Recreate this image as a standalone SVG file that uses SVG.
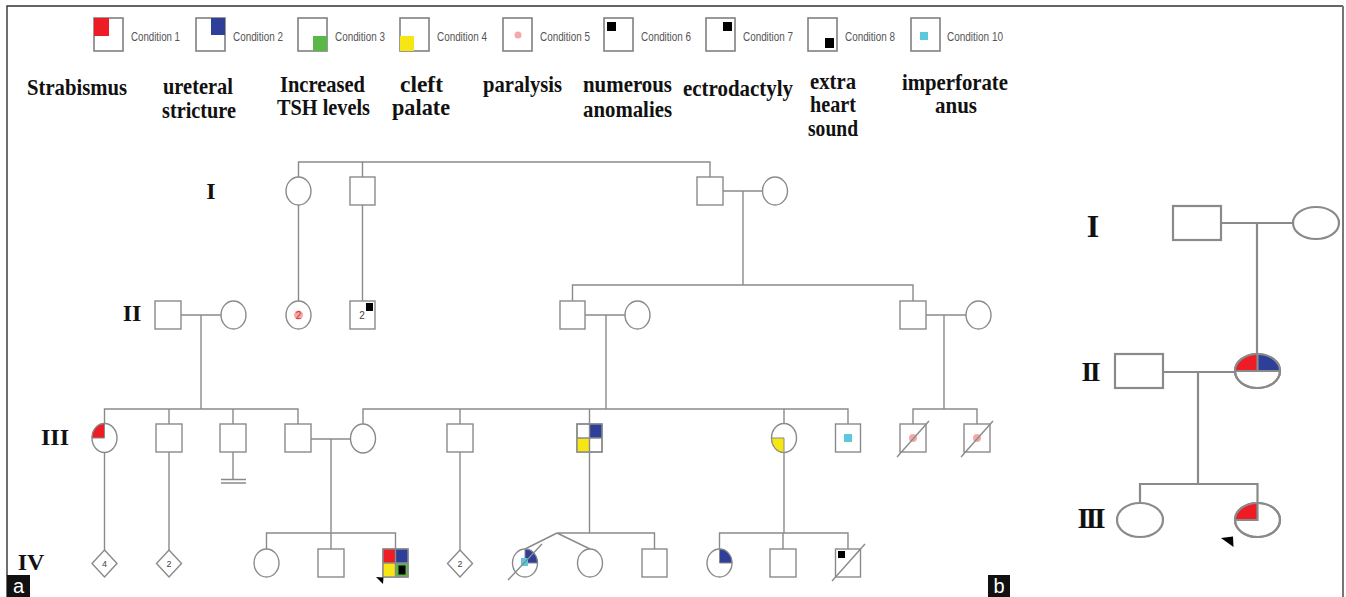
<svg xmlns="http://www.w3.org/2000/svg" width="1346" height="597" viewBox="0 0 1346 597">
<style>
.ln{stroke:#8a8a8a;stroke-width:1.4;fill:none}
.sym{stroke:#8a8a8a;stroke-width:1.4;fill:#fff}
.lg{stroke:#808080;stroke-width:1.6;fill:#fff}
.bl{stroke:#8a8a8a;stroke-width:2.2;fill:none}
.bs{stroke:#8a8a8a;stroke-width:2.2;fill:#fff}
.ct{font-family:"Liberation Sans",Arial,sans-serif;font-size:13px;fill:#555}
.lb{font-family:"Liberation Serif","Times New Roman",serif;font-weight:bold;font-size:23px;fill:#111}
.gn{font-family:"Liberation Serif","Times New Roman",serif;font-weight:bold;font-size:24px;fill:#111;text-anchor:middle}
.nm{font-family:"Liberation Sans",Arial,sans-serif;font-size:9px;fill:#444;text-anchor:middle}
.red{fill:#ee1c24}.blu{fill:#2e3f99}.grn{fill:#5ab946}.yel{fill:#f5e614}.pnk{fill:#f5a8a8}.cyn{fill:#5bc8dc}.blk{fill:#000}
.q{stroke:#8a8a8a;stroke-width:1}
.pl{font-family:"Liberation Sans",Arial,sans-serif;font-size:20px;fill:#fff;text-anchor:middle}
</style>
<rect width="1346" height="597" fill="#fff"/>
<path d="M7,597 V6 H1343" stroke="#333" stroke-width="1.4" fill="none"/>
<path d="M1343,6 V597" stroke="#777" stroke-width="2" fill="none"/>

<g id="legend">
  <rect class="lg" x="94" y="18" width="29" height="33"/><rect class="red" x="94" y="18" width="15" height="18"/>
  <text class="ct" x="131" y="41" textLength="49" lengthAdjust="spacingAndGlyphs">Condition 1</text>
  <rect class="lg" x="196" y="18" width="29" height="33"/><rect class="blu" x="211" y="18" width="14" height="17"/>
  <text class="ct" x="233" y="41" textLength="50" lengthAdjust="spacingAndGlyphs">Condition 2</text>
  <rect class="lg" x="298" y="18" width="29" height="33"/><rect class="grn" x="313" y="36" width="14" height="15"/>
  <text class="ct" x="335" y="41" textLength="50" lengthAdjust="spacingAndGlyphs">Condition 3</text>
  <rect class="lg" x="400" y="18" width="29" height="33"/><rect class="yel" x="400" y="36" width="14" height="15"/>
  <text class="ct" x="437" y="41" textLength="50" lengthAdjust="spacingAndGlyphs">Condition 4</text>
  <rect class="lg" x="503" y="18" width="29" height="33"/><circle class="pnk" cx="518" cy="35" r="3.5"/>
  <text class="ct" x="540" y="41" textLength="50" lengthAdjust="spacingAndGlyphs">Condition 5</text>
  <rect class="lg" x="604" y="18" width="29" height="33"/><rect class="blk" x="607" y="22" width="9" height="9"/>
  <text class="ct" x="641" y="41" textLength="50" lengthAdjust="spacingAndGlyphs">Condition 6</text>
  <rect class="lg" x="706" y="18" width="29" height="33"/><rect class="blk" x="723" y="22" width="9" height="9"/>
  <text class="ct" x="743" y="41" textLength="50" lengthAdjust="spacingAndGlyphs">Condition 7</text>
  <rect class="lg" x="808" y="18" width="29" height="33"/><rect class="blk" x="825" y="38" width="9" height="10"/>
  <text class="ct" x="845" y="41" textLength="50" lengthAdjust="spacingAndGlyphs">Condition 8</text>
  <rect class="lg" x="911" y="18" width="29" height="33"/><rect class="cyn" x="920" y="32" width="8" height="8"/>
  <text class="ct" x="947" y="41" textLength="56" lengthAdjust="spacingAndGlyphs">Condition 10</text>
</g>

<g id="labels">
  <text class="lb" x="27" y="95" textLength="100" lengthAdjust="spacingAndGlyphs">Strabismus</text>
  <text class="lb" x="163" y="94" textLength="70" lengthAdjust="spacingAndGlyphs">ureteral</text>
  <text class="lb" x="162" y="118" textLength="74" lengthAdjust="spacingAndGlyphs">stricture</text>
  <text class="lb" x="280" y="92" textLength="85" lengthAdjust="spacingAndGlyphs">Increased</text>
  <text class="lb" x="277" y="115" textLength="93" lengthAdjust="spacingAndGlyphs">TSH levels</text>
  <text class="lb" x="400" y="92" textLength="43" lengthAdjust="spacingAndGlyphs">cleft</text>
  <text class="lb" x="392" y="115" textLength="58" lengthAdjust="spacingAndGlyphs">palate</text>
  <text class="lb" x="483" y="92" textLength="79" lengthAdjust="spacingAndGlyphs">paralysis</text>
  <text class="lb" x="583" y="92" textLength="89" lengthAdjust="spacingAndGlyphs">numerous</text>
  <text class="lb" x="583" y="117" textLength="89" lengthAdjust="spacingAndGlyphs">anomalies</text>
  <text class="lb" x="683" y="96" textLength="110" lengthAdjust="spacingAndGlyphs">ectrodactyly</text>
  <text class="lb" x="810" y="89" textLength="46" lengthAdjust="spacingAndGlyphs">extra</text>
  <text class="lb" x="810" y="112" textLength="46" lengthAdjust="spacingAndGlyphs">heart</text>
  <text class="lb" x="808" y="136" textLength="50" lengthAdjust="spacingAndGlyphs">sound</text>
  <text class="lb" x="902" y="90" textLength="106" lengthAdjust="spacingAndGlyphs">imperforate</text>
  <text class="lb" x="935" y="113" textLength="42" lengthAdjust="spacingAndGlyphs">anus</text>
</g>

<g id="generations-a">
  <text class="gn" x="211" y="199">I</text>
  <text class="gn" x="132" y="321">II</text>
  <text class="gn" x="55" y="445">III</text>
  <text class="gn" x="31" y="570">IV</text>
</g>

<g id="connectors">
  <path class="ln" d="M298.5,177 V162 H710 V177 M362.5,162 V177"/>
  <path class="ln" d="M723,191 H762.5 M743,191 V285 M572.5,301 V285 H913 V301"/>
  <path class="ln" d="M298.5,205 V301 M362.5,205 V301"/>
  <path class="ln" d="M181,315 H221 M585,315 H625 M926,315 H966"/>
  <path class="ln" d="M201,315 V409 M606,315 V409 M944,315 V409"/>
  <path class="ln" d="M104.5,424 V409 H298 V424 M169,409 V424 M233,409 V424"/>
  <path class="ln" d="M363,424 V409 H848 V424 M460,409 V424 M589.5,409 V424 M784,409 V424"/>
  <path class="ln" d="M913,424 V409 H977 V424"/>
  <path class="ln" d="M233,452 V480 M221,479.5 H246 M221,483 H246"/>
  <path class="ln" d="M311,439 H350.5 M331,439 V533 M266.5,549 V533 H395.5 V549 M331,533 V549"/>
  <path class="ln" d="M104.5,452.5 V550 M169,452 V550 M460,452 V550"/>
  <path class="ln" d="M589.5,452 V533 M557,533 H654.5 V549 M557,533 L525,549 M557,533 L590,549"/>
  <path class="ln" d="M784,452.5 V533 M719.5,549 V533 H848 V549 M783,533 V549"/>
</g>

<g id="I-1"><ellipse class="sym" cx="298.5" cy="191" rx="12.5" ry="14"/></g>
<g id="I-2"><rect class="sym" x="350" y="177" width="25" height="28"/></g>
<g id="I-3"><rect class="sym" x="697" y="177" width="26" height="28"/></g>
<g id="I-4"><ellipse class="sym" cx="775" cy="191" rx="12.5" ry="14"/></g>

<g id="II-1"><rect class="sym" x="155" y="301" width="26" height="28"/></g>
<g id="II-2"><ellipse class="sym" cx="233.5" cy="315" rx="12.5" ry="14"/></g>
<g id="II-3"><ellipse class="sym" cx="298.5" cy="315" rx="12.5" ry="14"/><circle class="pnk" cx="298.5" cy="315" r="4.5"/><text class="nm" x="298.5" y="318.5" style="fill:#c0392b;font-size:10px">2</text></g>
<g id="II-4"><rect class="sym" x="350" y="301" width="25" height="28"/><rect class="blk" x="366" y="303" width="7" height="8"/><text class="nm" x="362" y="319" style="font-size:10px">2</text></g>
<g id="II-5"><rect class="sym" x="560" y="301" width="25" height="28"/></g>
<g id="II-6"><ellipse class="sym" cx="637.5" cy="315" rx="12.5" ry="14"/></g>
<g id="II-7"><rect class="sym" x="900" y="301" width="26" height="28"/></g>
<g id="II-8"><ellipse class="sym" cx="978.5" cy="315" rx="12.5" ry="14"/></g>

<g id="III-1"><ellipse class="sym" cx="104.5" cy="438" rx="12.5" ry="14.5"/><path class="red q" d="M104.5,438 H92 A12.5,14.5 0 0 1 104.5,423.5 Z"/></g>
<g id="III-2"><rect class="sym" x="156" y="424" width="26" height="28"/></g>
<g id="III-3"><rect class="sym" x="220" y="424" width="26" height="28"/></g>
<g id="III-4"><rect class="sym" x="285" y="424" width="26" height="28"/></g>
<g id="III-4-spouse"><ellipse class="sym" cx="363" cy="438.5" rx="12.5" ry="14.5"/></g>
<g id="III-5"><rect class="sym" x="447" y="424" width="26" height="28"/></g>
<g id="III-6"><rect class="sym" x="577" y="424" width="25" height="28"/><rect class="blu" x="589.5" y="424" width="12.5" height="14"/><rect class="yel" x="577" y="438" width="12.5" height="14"/><path class="ln" d="M589.5,424 V452 M577,438 H602"/><rect class="ln" x="577" y="424" width="25" height="28"/></g>
<g id="III-7"><ellipse class="sym" cx="784" cy="438" rx="12.5" ry="14.5"/><path class="yel q" d="M784,438 V452.5 A12.5,14.5 0 0 1 771.5,438 Z"/></g>
<g id="III-8"><rect class="sym" x="835.5" y="424" width="25" height="28"/><rect class="cyn" x="844" y="434" width="8" height="8"/></g>
<g id="III-9"><rect class="sym" x="900" y="424" width="26" height="28"/><circle class="pnk" cx="913" cy="438" r="4"/><path class="ln" d="M897,457 L929,421"/></g>
<g id="III-10"><rect class="sym" x="964" y="424" width="26" height="28"/><circle class="pnk" cx="977" cy="438" r="4"/><path class="ln" d="M961,457 L993,421"/></g>

<g id="IV-1"><path class="sym" d="M104.5,550 L117,563.5 L104.5,577 L92,563.5 Z"/><text class="nm" x="104.5" y="566.5">4</text></g>
<g id="IV-2"><path class="sym" d="M169,550 L181.5,563.5 L169,577 L156.5,563.5 Z"/><text class="nm" x="169" y="566.5">2</text></g>
<g id="IV-3"><ellipse class="sym" cx="266.5" cy="563" rx="12.5" ry="14"/></g>
<g id="IV-4"><rect class="sym" x="318" y="549" width="26" height="28"/></g>
<g id="IV-5-proband"><rect class="sym" x="383" y="549" width="25" height="28"/><rect class="red" x="383" y="549" width="12.5" height="14"/><rect class="blu" x="395.5" y="549" width="12.5" height="14"/><rect class="yel" x="383" y="563" width="12.5" height="14"/><rect class="grn" x="395.5" y="563" width="12.5" height="14"/><rect class="blk" x="398.5" y="565.5" width="7" height="9"/><path class="ln" d="M395.5,549 V577 M383,563 H408"/><rect class="ln" x="383" y="549" width="25" height="28"/><path class="blk" d="M376,577 L383.5,577.5 L383,584 Z"/></g>
<g id="IV-6"><path class="sym" d="M460,550 L472.5,563.5 L460,577 L447.5,563.5 Z"/><text class="nm" x="460" y="566.5">2</text></g>
<g id="IV-7"><ellipse class="sym" cx="525" cy="563" rx="12.5" ry="14"/><path class="blu q" d="M525,563 V549 A12.5,14 0 0 1 537.5,563 Z"/><rect class="cyn" x="521" y="558" width="7" height="8"/><path class="ln" d="M508,580 L542,544"/></g>
<g id="IV-8"><ellipse class="sym" cx="590" cy="563" rx="12.5" ry="14"/></g>
<g id="IV-9"><rect class="sym" x="642" y="549" width="25" height="28"/></g>
<g id="IV-10"><ellipse class="sym" cx="719.5" cy="563" rx="12.5" ry="14"/><path class="blu q" d="M719.5,563 V549 A12.5,14 0 0 1 732,563 Z"/></g>
<g id="IV-11"><rect class="sym" x="770" y="549" width="26" height="28"/></g>
<g id="IV-12"><rect class="sym" x="835.5" y="549" width="25" height="28"/><rect class="blk" x="838" y="551" width="7" height="7"/><path class="ln" d="M832,581 L865,544"/></g>

<g id="panel-b">
  <text class="gn" x="1093" y="237" style="font-size:32px">I</text>
  <text class="gn" x="1090" y="381" style="font-size:27px;letter-spacing:-2px">II</text>
  <text class="gn" x="1090" y="528" style="font-size:29px;letter-spacing:-3px">III</text>
  <g id="b-connectors">
    <path class="bl" d="M1221,223 H1293 M1257,223 V354"/>
    <path class="bl" d="M1163,372 H1235 M1198,372 V484 M1140,503 V484 H1257.5 V503"/>
  </g>
  <g id="b-I-1"><rect class="bs" x="1173" y="206" width="48" height="34"/></g>
  <g id="b-I-2"><ellipse class="bs" cx="1316" cy="223" rx="23" ry="16"/></g>
  <g id="b-II-1"><rect class="bs" x="1115" y="354" width="48" height="34"/></g>
  <g id="b-II-2"><ellipse class="bs" cx="1257.5" cy="371" rx="22.5" ry="17"/><path class="red" d="M1257.5,371 H1235 A22.5,17 0 0 1 1257.5,354 Z"/><path class="blu" d="M1257.5,371 V354 A22.5,17 0 0 1 1280,371 Z"/><path class="bl" d="M1235,371 H1280 M1257.5,354 V371"/><ellipse class="bl" cx="1257.5" cy="371" rx="22.5" ry="17"/></g>
  <g id="b-III-1"><ellipse class="bs" cx="1140" cy="520" rx="23" ry="17"/></g>
  <g id="b-III-2"><ellipse class="bs" cx="1257.5" cy="520" rx="22.5" ry="17"/><path class="red" d="M1257.5,520 H1235 A22.5,17 0 0 1 1257.5,503 Z"/><path class="bl" d="M1235,520 H1257.5 V503"/><ellipse class="bl" cx="1257.5" cy="520" rx="22.5" ry="17"/><path class="blk" d="M1221,538 L1233,536.5 L1233.5,547 Z"/></g>
</g>

<g id="panel-labels">
  <rect x="7" y="575" width="23" height="22" fill="#111"/><text class="pl" x="18.5" y="593">a</text>
  <rect x="988" y="575" width="22" height="22" fill="#111"/><text class="pl" x="999" y="593">b</text>
</g>
</svg>
